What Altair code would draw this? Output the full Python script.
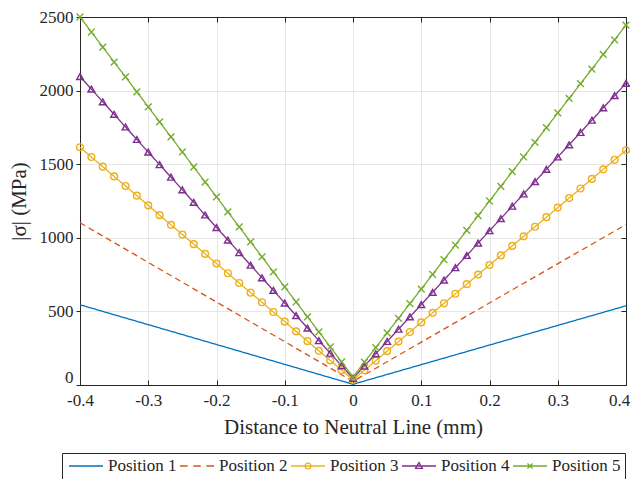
import altair as alt
import numpy as np
import pandas as pd

SERIES = ["Position 1", "Position 2", "Position 3", "Position 4", "Position 5"]
COLORS = ["#0072BD", "#D95319", "#EDB120", "#7E2F8E", "#77AC30"]

# Positions 1 and 2 (plain lines): distance (mm) and |sigma| (MPa)
X_SIMPLE = [-0.4, 0.0, 0.4]
POS1 = [545, 5, 538]
POS2 = [1102, 25, 1090]

# Positions 3-5 (marked lines), sampled every 1/60 mm from -0.4 to 0.4
X_GRID = [round(v, 5) for v in np.linspace(-0.4, 0.4, 49)]
POS3 = [1615, 1549, 1483, 1417, 1352, 1286, 1220, 1154, 1088, 1022, 957, 891, 825,
        759, 693, 627, 562, 496, 430, 364, 298, 232, 167, 101, 35,
        100, 165, 230, 295, 360, 425, 490, 555, 620, 685, 750, 815, 880, 945,
        1010, 1075, 1140, 1205, 1270, 1335, 1400, 1465, 1530, 1595]
POS4 = [2095, 2010, 1924, 1839, 1753, 1668, 1582, 1497, 1412, 1326, 1241, 1155, 1070,
        985, 899, 814, 728, 643, 557, 472, 387, 301, 216, 130, 45,
        129, 212, 296, 379, 463, 546, 630, 713, 797, 880, 964, 1048, 1131, 1215,
        1298, 1382, 1465, 1549, 1632, 1716, 1799, 1883, 1966, 2050]
POS5 = [2500, 2398, 2296, 2194, 2093, 1991, 1889, 1787, 1685, 1583, 1481, 1379, 1278,
        1176, 1074, 972, 870, 768, 666, 564, 463, 361, 259, 157, 55,
        155, 254, 354, 453, 553, 652, 752, 852, 951, 1051, 1150, 1250, 1350, 1449,
        1549, 1648, 1748, 1848, 1947, 2047, 2146, 2246, 2345, 2445]

X_TICKS = [-0.4, -0.3, -0.2, -0.1, 0, 0.1, 0.2, 0.3, 0.4]
Y_TICKS = [0, 500, 1000, 1500, 2000, 2500]

rows = []
for name, xs, ys in [("Position 1", X_SIMPLE, POS1), ("Position 2", X_SIMPLE, POS2),
                     ("Position 3", X_GRID, POS3), ("Position 4", X_GRID, POS4),
                     ("Position 5", X_GRID, POS5)]:
    for xv, yv in zip(xs, ys):
        rows.append({"series": name, "x": xv, "y": yv})
df = pd.DataFrame(rows)

FONT = "Liberation Serif"
TXT = "#262626"
XSCALE = alt.Scale(domain=[-0.4, 0.4], nice=False, zero=False)
YSCALE = alt.Scale(domain=[0, 2500], nice=False)
X_MARK = "M-1,-1L1,1M-1,1L1,-1"

LEGEND_PATHS = [
    "M-1,0H1",
    "M-1,0H-0.55M-0.22,0H0.22M0.55,0H1",
    "M-1,0H1M-0.17,0A0.17,0.17 0 1,1 0.17,0A0.17,0.17 0 1,1 -0.17,0",
    "M-1,0H1M0,-0.2L0.2,0.14L-0.2,0.14Z",
    "M-1,0H1M-0.15,-0.15L0.15,0.15M-0.15,0.15L0.15,-0.15",
]

AXIS_STYLE = dict(labelFont=FONT, titleFont=FONT, labelFontSize=17, titleFontSize=21,
                  titleFontWeight="normal", labelColor=TXT, titleColor=TXT,
                  domainColor=TXT, tickColor=TXT, labelFlush=False)

base = alt.Chart(df)

lines = base.mark_line(strokeWidth=1.3).encode(
    x=alt.X("x:Q", scale=XSCALE,
            axis=alt.Axis(orient="bottom", values=X_TICKS, labelExpr="'' + datum.value",
                          title="Distance to Neutral Line (mm)",
                          tickSize={"expr": "-5"}, labelPadding=12, titlePadding=8,
                          labelOffset={"condition": {"test": "datum.value > 0.35", "value": -7},
                                       "value": 0},
                          grid=True, **AXIS_STYLE)),
    y=alt.Y("y:Q", scale=YSCALE,
            axis=alt.Axis(orient="left", values=Y_TICKS, format="d", title="|σ| (MPa)",
                          tickSize=4, labelPadding=3, titlePadding=10, grid=True,
                          labelOffset={"condition": {"test": "datum.value === 0", "value": -8},
                                       "value": 0},
                          **AXIS_STYLE)),
    color=alt.Color("series:N", scale=alt.Scale(domain=SERIES, range=COLORS), legend=None),
    strokeDash=alt.StrokeDash("series:N",
                              scale=alt.Scale(domain=SERIES,
                                              range=[[1, 0], [6, 4], [1, 0], [1, 0], [1, 0]]),
                              legend=None),
)

points = base.transform_filter(
    alt.FieldOneOfPredicate(field="series", oneOf=SERIES[2:])
).mark_point(filled=False, size=46, strokeWidth=1.4, opacity=1).encode(
    x=alt.X("x:Q", scale=XSCALE,
            axis=alt.Axis(orient="top", values=X_TICKS, labels=False, title=None,
                          tickSize={"expr": "-5"}, grid=False, **AXIS_STYLE)),
    y=alt.Y("y:Q", scale=YSCALE,
            axis=alt.Axis(orient="right", values=Y_TICKS, labels=False, title=None,
                          tickSize={"expr": "-5"}, grid=False, **AXIS_STYLE)),
    color=alt.Color("series:N", scale=alt.Scale(domain=SERIES, range=COLORS), legend=None),
    shape=alt.Shape("series:N",
                    scale=alt.Scale(domain=SERIES[2:], range=["circle", "triangle-up", X_MARK]),
                    legend=None),
)

LEGEND = alt.Legend(title=None, orient="none", direction="horizontal",
                    legendX=-18, legendY=436, columns=5,
                    labelFont=FONT, labelFontSize=17, labelColor=TXT)

legend_layer = base.transform_filter("datum.x > 10").mark_point(
    filled=False, strokeWidth=1.3, opacity=1
).encode(
    x=alt.X("x:Q", scale=XSCALE, axis=None),
    y=alt.Y("y:Q", scale=YSCALE, axis=None),
    color=alt.Color("series:N", scale=alt.Scale(domain=SERIES, range=COLORS), legend=LEGEND),
    shape=alt.Shape("series:N", scale=alt.Scale(domain=SERIES, range=LEGEND_PATHS),
                    legend=LEGEND),
)

chart = alt.layer(lines, points, legend_layer).resolve_scale(
    color="independent", shape="independent", strokeDash="independent"
).resolve_axis(
    x="independent", y="independent"
).resolve_legend(
    color="independent", shape="independent", strokeDash="independent"
).properties(
    width=546, height=368,
    autosize=alt.AutoSizeParams(type="none"),
    padding={"left": 72, "top": 9, "right": 4, "bottom": 94},
).configure_view(
    stroke=None
).configure_axis(
    labelFont=FONT, titleFont=FONT, domainWidth=1, tickWidth=1,
    gridColor="#e6e6e6", gridWidth=1,
).configure_legend(
    labelFont=FONT, labelFontSize=17, labelColor=TXT,
    symbolSize=1156, clipHeight=18, symbolStrokeWidth=1.3, symbolFillColor="transparent",
    strokeColor=TXT, fillColor="white", padding=4, labelOffset=4,
    columnPadding=0, symbolOffset=2,
)

chart.save("out.html", embed_options={"renderer": "svg", "actions": False})
